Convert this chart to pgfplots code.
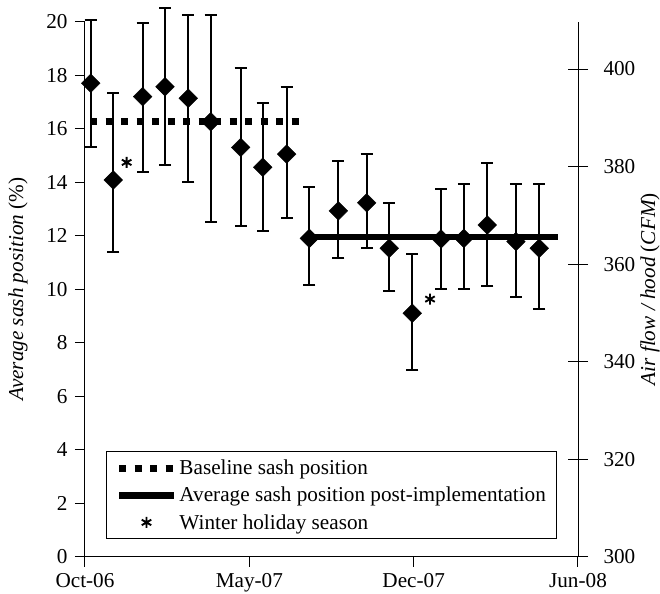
\documentclass[border=0pt]{standalone}
\usepackage{fontspec}
\setmainfont{Liberation Serif}
\usepackage{pgfplots}
\pgfplotsset{compat=1.18}
\usepackage{pgfplotstable}
\newcommand{\fs}{\fontsize{21.2bp}{25bp}\selectfont}
\pgfplotsset{
  leglong/.style={legend image code/.code={\draw[##1] (0bp,0bp) -- (55bp,0bp);}},
  legmark/.style={legend image code/.code={\path[draw=none] (0bp,0bp) -- (55bp,0bp); \draw[##1] plot coordinates {(27.5bp,0bp)};}},
}
\pgfplotstableread{
x y ep em
6.9 17.70 2.37 2.37
34.4 14.08 3.24 2.68
70.2 17.20 2.74 2.83
97.4 17.57 2.93 2.93
125.7 17.14 3.11 3.12
153.0 16.26 3.99 3.74
189.5 15.30 2.96 2.93
216.3 14.56 2.41 2.37
245.5 15.05 2.50 2.38
273.0 11.90 1.91 1.74
308.3 12.93 1.87 1.78
342.8 13.23 1.82 1.70
370.3 11.53 1.70 1.59
398.3 9.10 2.20 2.12
433.3 11.88 1.85 1.87
461.2 11.90 2.03 1.89
489.6 12.40 2.31 2.27
524.5 11.78 2.15 2.06
552.9 11.53 2.40 2.27
}\sash
\pgfplotstableread{
x y
6.1 16.26
263.7 16.26
}\baseline
\pgfplotstableread{
x y
273.0 11.96
575.3 11.96
}\post
\pgfplotstableread{
x y
50.7 14.74
419.9 9.63
}\holiday
\begin{document}
\begin{tikzpicture}
\begin{axis}[
  scale only axis, width=493bp, height=535bp,
  xmin=0, xmax=600, ymin=0, ymax=20,
  clip=false,
  axis x line*=bottom, axis y line*=left,
  xtick={0,200,400,600}, xticklabels={Oct-06,May-07,Dec-07,Jun-08},
  ytick={0,2,...,20},
  tick align=outside, major tick length=10bp,
  tick style={black, line width=1bp},
  axis line style={black, line width=1bp},
  tick label style={font=\fs},
  xticklabel style={yshift=-3.5bp},
  yticklabel style={xshift=-4bp},
  /pgf/number format/assume math mode=true,
  every axis y label/.style={at={(axis description cs:-0.1359,0.5)}, rotate=90, anchor=center, font=\fs},
  ylabel={\itshape Average sash position \upshape(\%)},
  legend style={at={(0.0426,0.033)}, anchor=south west, draw=black, line width=1bp, font=\fs,
    inner xsep=9bp, inner ysep=6bp, row sep=7bp, cells={anchor=west}},
  legend cell align=left,
]
\addplot[black, line width=7bp, dash pattern=on 7bp off 8.5bp, leglong] table[x=x,y=y] {\baseline};
\addlegendentry{Baseline sash position}
\addplot[black, line width=6.5bp, leglong] table[x=x,y=y] {\post};
\addlegendentry{Average sash position post-implementation}
\addplot[black, only marks, mark=asterisk, mark size=5.5bp, mark options={line width=1.9bp}, legmark] table[x=x,y=y] {\holiday};
\addlegendentry{Winter holiday season}
\addplot[black, only marks, forget plot, mark=square*, mark size=6.6bp, mark options={rotate=45, line width=0.4bp},
  error bars/.cd, y dir=both, y explicit,
  error bar style={line width=2bp, black},
  error mark options={rotate=90, line width=2bp, mark size=6bp, black}]
  table[x=x, y=y, y error plus=ep, y error minus=em] {\sash};
\end{axis}
\begin{axis}[
  scale only axis, width=493bp, height=535bp,
  xmin=0, xmax=600, ymin=300, ymax=409.7,
  axis x line=none, axis y line*=right,
  ytick={300,320,...,400},
  tick align=center, major tick length=20bp,
  tick style={black, line width=1bp},
  axis line style={black, line width=1bp},
  tick label style={font=\fs},
  yticklabel style={xshift=12bp},
  /pgf/number format/assume math mode=true,
  every axis y label/.style={at={(axis description cs:1.146,0.5)}, rotate=90, anchor=center, font=\fs},
  ylabel={\itshape Air flow / hood \upshape(\itshape CFM\upshape)},
]
\addplot[draw=none, forget plot] coordinates {(0,300)};
\end{axis}
\pgfresetboundingbox
\path[use as bounding box] (-85bp,-37.3bp) rectangle (575bp,556.7bp);
\end{tikzpicture}
\end{document}
